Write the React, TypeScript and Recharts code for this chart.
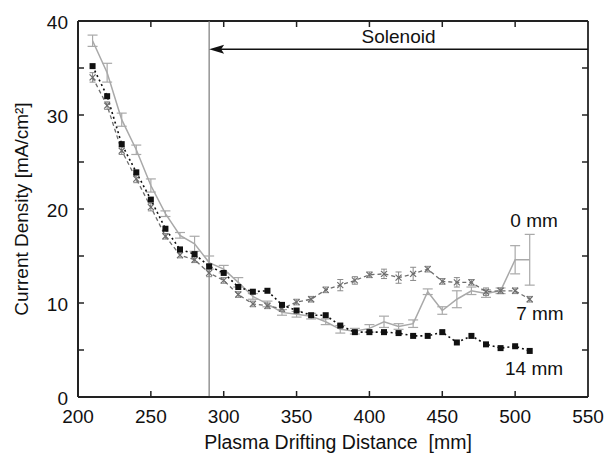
import React from 'react';
import {
  LineChart,
  Line,
  XAxis,
  YAxis,
  ErrorBar,
  ReferenceLine,
  ReferenceDot,
  CartesianGrid,
} from 'recharts';

const distances = [210, 220, 230, 240, 250, 260, 270, 280, 290, 300, 310, 320, 330, 340, 350, 360, 370, 380, 390, 400, 410, 420, 430, 440, 450, 460, 470, 480, 490, 500, 510];

const mm0 = [37.9, 34.5, 29.5, 26.3, 22.5, 19.5, 17.2, 16.3, 14.3, 13.6, 12.2, 10.7, 9.9, 9.0, 8.8, 8.6, 8.0, 7.2, 7.0, 7.3, 8.0, 7.5, 7.8, 11.2, 9.2, 10.4, 11.3, 11.0, 11.3, 14.6, 14.6];
const mm0Err = [0.6, 1.0, 0.7, 0.5, 0.7, 0.3, 0.3, 0.8, 0.7, 0.4, 0.5, 0.3, 0.3, 0.3, 0.3, 0.3, 0.3, 0.4, 0.3, 0.4, 0.6, 0.3, 0.4, 0.3, 0.4, 0.9, 0.4, 0.4, 0.3, 1.5, 2.7];

const mm7 = [34.0, 31.0, 26.2, 23.2, 20.2, 17.1, 15.1, 14.6, 13.2, 12.4, 10.9, 9.9, 9.7, 9.4, 10.1, 10.4, 11.4, 11.9, 12.4, 13.0, 13.1, 12.7, 13.1, 13.6, 12.3, 12.2, 12.2, 11.2, 11.3, 11.3, 10.4];
const mm7Err = [0.5, 0.4, 0.4, 0.4, 0.4, 0.3, 0.3, 0.3, 0.4, 0.3, 0.3, 0.3, 0.3, 0.3, 0.3, 0.3, 0.3, 0.6, 0.4, 0.3, 0.5, 0.6, 0.7, 0.3, 0.3, 0.5, 0.3, 0.4, 0.3, 0.3, 0.3];

const mm14 = [35.2, 32.0, 26.9, 23.9, 21.0, 17.9, 15.7, 15.2, 13.9, 13.2, 11.7, 11.2, 11.3, 9.8, 9.2, 8.7, 8.7, 7.6, 6.9, 6.9, 6.9, 6.8, 6.5, 6.5, 6.9, 5.8, 6.5, 5.6, 5.2, 5.4, 4.9];

const xTicks = [200, 250, 300, 350, 400, 450, 500, 550];
const yTicks = [0, 5, 10, 15, 20, 25, 30, 35, 40];
const yLabelTicks = [0, 10, 20, 30, 40];
const xDomain = [200, 550];
const yDomain = [0, 40];

const seriesLabels = [
  { text: '0 mm', x: 513, y: 18.8 },
  { text: '7 mm', x: 517, y: 8.9 },
  { text: '14 mm', x: 513, y: 3.05 },
];

const solenoidX = 290;
const solenoidArrowY = 37;

const data = distances.map((d, i) => ({
  d,
  a: mm0[i],
  aErr: mm0Err[i],
  b: mm7[i],
  bErr: mm7Err[i],
  c: mm14[i],
}));

// layout constants
const W = 611;
const H = 460;
const M_TOP = 21;
const M_RIGHT = 23;
const Y_AXIS_W = 78;
const X_AXIS_H = 63;
const PLOT_L = Y_AXIS_W;
const PLOT_R = W - M_RIGHT;
const PLOT_T = M_TOP;
const PLOT_B = H - X_AXIS_H;

const FONT = '"Liberation Sans", Arial, Helvetica, sans-serif';
const FS = 19;
const INK = '#222';
const TICK_PX = 6;

const xPix = (v: number) => PLOT_L + ((v - xDomain[0]) / (xDomain[1] - xDomain[0])) * (PLOT_R - PLOT_L);
const yPix = (v: number) => PLOT_B - ((v - yDomain[0]) / (yDomain[1] - yDomain[0])) * (PLOT_B - PLOT_T);
const innerXTickPx = xTicks.slice(1, -1).map(xPix);
const innerYTickPx = yTicks.slice(1, -1).map(yPix);

const BottomTick = (props: any) => {
  const { x, y, payload } = props;
  return (
    <text x={x} y={y + 26} textAnchor="middle" fontSize={FS} fontFamily={FONT} fill="#111">
      {payload.value}
    </text>
  );
};

const LeftTick = (props: any) => {
  const { x, y, payload } = props;
  if (!yLabelTicks.includes(payload.value)) return <g />;
  return (
    <text x={x - 10} y={y + 8} textAnchor="end" fontSize={FS} fontFamily={FONT} fill="#111">
      {payload.value}
    </text>
  );
};

const SquareDot = (props: any) => {
  const { cx, cy, index } = props;
  if (cx == null || cy == null) return <g key={index} />;
  return <rect key={index} x={cx - 3} y={cy - 3} width={6} height={6} fill="#111" />;
};

const CrossDot = (props: any) => {
  const { cx, cy, index } = props;
  if (cx == null || cy == null) return <g key={index} />;
  const s = 3;
  return (
    <g key={index}>
      <line x1={cx - s} y1={cy - s} x2={cx + s} y2={cy + s} stroke="#6e6e6e" strokeWidth={1.2} />
      <line x1={cx - s} y1={cy + s} x2={cx + s} y2={cy - s} stroke="#6e6e6e" strokeWidth={1.2} />
    </g>
  );
};

const ArrowShape = (props: any) => {
  const { x1, y1, x2, y2 } = props;
  if (x1 == null) return null;
  const left = Math.min(x1, x2);
  const right = Math.max(x1, x2);
  const y = y1;
  const mid = (left + right) / 2;
  return (
    <g>
      <line x1={left + 10} y1={y} x2={right} y2={y2} stroke="#111" strokeWidth={1.5} />
      <polygon points={`${left},${y} ${left + 15},${y - 4.5} ${left + 12},${y} ${left + 15},${y + 4.5}`} fill="#111" />
      <text x={mid} y={y - 6} textAnchor="middle" fontSize={FS} fontFamily={FONT} fill="#111">
        Solenoid
      </text>
    </g>
  );
};

const YTitle = (props: any) => {
  const vb = props.viewBox || {};
  const cx = 21;
  const cy = (vb.y ?? PLOT_T) + (vb.height ?? PLOT_B - PLOT_T) / 2;
  return (
    <text
      x={cx}
      y={cy}
      transform={`rotate(-90 ${cx} ${cy})`}
      textAnchor="middle"
      dominantBaseline="central"
      fontSize={FS}
      fontFamily={FONT}
      fill="#111"
    >
      Current Density [mA/cm²]
    </text>
  );
};

const XTitle = (props: any) => {
  const vb = props.viewBox || {};
  const cx = (vb.x ?? PLOT_L) + (vb.width ?? PLOT_R - PLOT_L) / 2 + 5;
  return (
    <text x={cx} y={449} textAnchor="middle" fontSize={19.5} fontFamily={FONT} fill="#111" xmlSpace="preserve">
      Plasma Drifting Distance  [mm]
    </text>
  );
};

const FrameH = (p: any) => (
  <line key={p.key} x1={p.x1} y1={p.y1} x2={p.x2} y2={p.y2} stroke={INK} strokeWidth={1.8} />
);
const FrameV = (p: any) => (
  <line key={p.key} x1={p.x1} y1={p.y1} x2={p.x2} y2={p.y2} stroke={INK} strokeWidth={1.8} />
);
const TickH = (p: any) => (
  <g key={p.key}>
    <line x1={p.x1} y1={p.y1} x2={p.x1 + TICK_PX} y2={p.y1} stroke={INK} strokeWidth={1.5} />
    <line x1={p.x2 - TICK_PX} y1={p.y2} x2={p.x2} y2={p.y2} stroke={INK} strokeWidth={1.5} />
  </g>
);
const TickV = (p: any) => {
  const top = Math.min(p.y1, p.y2);
  const bottom = Math.max(p.y1, p.y2);
  return (
    <g key={p.key}>
      <line x1={p.x1} y1={top} x2={p.x1} y2={top + TICK_PX} stroke={INK} strokeWidth={1.5} />
      <line x1={p.x1} y1={bottom - TICK_PX} x2={p.x1} y2={bottom} stroke={INK} strokeWidth={1.5} />
    </g>
  );
};

export default function App() {
  return (
    <div style={{ position: 'absolute', left: 0, top: 0, width: W, height: H, background: '#fff' }}>
      <LineChart width={W} height={H} data={data} margin={{ top: M_TOP, right: M_RIGHT, left: 0, bottom: 0 }}>
        <CartesianGrid
          horizontal={TickH}
          vertical={TickV}
          horizontalPoints={innerYTickPx}
          verticalPoints={innerXTickPx}
          fill="none"
          stroke={INK}
        />
        <CartesianGrid
          horizontal={FrameH}
          vertical={FrameV}
          horizontalPoints={[PLOT_T, PLOT_B]}
          verticalPoints={[PLOT_L, PLOT_R]}
          fill="none"
          stroke={INK}
        />
        <XAxis
          dataKey="d"
          type="number"
          domain={xDomain}
          ticks={xTicks}
          interval={0}
          tickSize={0}
          tickMargin={0}
          height={X_AXIS_H}
          tick={BottomTick}
          tickLine={false}
          axisLine={{ stroke: INK, strokeWidth: 2 }}
          allowDataOverflow
          label={XTitle}
        />
        <YAxis
          type="number"
          domain={yDomain}
          ticks={yTicks}
          interval={0}
          width={Y_AXIS_W}
          tickSize={0}
          tickMargin={0}
          tick={LeftTick}
          tickLine={false}
          axisLine={{ stroke: INK, strokeWidth: 2 }}
          allowDataOverflow
          label={YTitle}
        />
        <ReferenceLine x={solenoidX} stroke="#7a7a7a" strokeWidth={1.2} />
        <ReferenceLine
          segment={[
            { x: solenoidX, y: solenoidArrowY },
            { x: xDomain[1], y: solenoidArrowY },
          ]}
          shape={ArrowShape}
        />
        <Line
          dataKey="a"
          stroke="#a9a9a9"
          strokeWidth={1.5}
          dot={false}
          isAnimationActive={false}
        >
          <ErrorBar dataKey="aErr" width={5} stroke="#a9a9a9" strokeWidth={1.2} direction="y" />
        </Line>
        <Line
          dataKey="b"
          stroke="#6e6e6e"
          strokeWidth={1.3}
          strokeDasharray="4 3"
          dot={CrossDot}
          isAnimationActive={false}
        >
          <ErrorBar dataKey="bErr" width={3} stroke="#8a8a8a" strokeWidth={1} direction="y" />
        </Line>
        <Line
          dataKey="c"
          stroke="#111"
          strokeWidth={1.6}
          strokeDasharray="2 3"
          dot={SquareDot}
          isAnimationActive={false}
        />
        {seriesLabels.map((l) => (
          <ReferenceDot
            key={l.text}
            x={l.x}
            y={l.y}
            r={0}
            fill="none"
            stroke="none"
            label={{ value: l.text, position: 'center', fontSize: FS, fontFamily: FONT, fill: '#111' }}
          />
        ))}
      </LineChart>
    </div>
  );
}
